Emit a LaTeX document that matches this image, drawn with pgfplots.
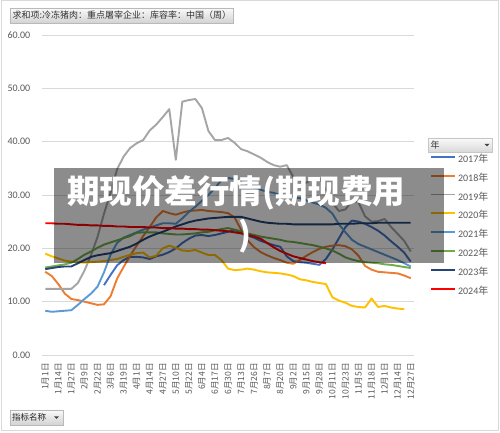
\documentclass[border=0pt]{standalone}
\usepackage{pgfplots}
\pgfplotsset{compat=1.18}
\usepackage{pgfplotstable}
\usepackage{fontspec}
\setmainfont{Carlito}
\newfontfamily\cjk{Noto Sans CJK SC}
\definecolor{s17}{HTML}{4472C4}
\definecolor{s18}{HTML}{ED7D31}
\definecolor{s19}{HTML}{A5A5A5}
\definecolor{s20}{HTML}{FFC000}
\definecolor{s21}{HTML}{5B9BD5}
\definecolor{s22}{HTML}{70AD47}
\definecolor{s23}{HTML}{264478}
\definecolor{s24}{HTML}{FF0000}
\definecolor{txt}{HTML}{595959}
\definecolor{grd}{HTML}{D9D9D9}

\pgfplotstableread{
c  a17  a18  a19  a20  a21  a22  a23  a24
0  nan  15.6 12.4 19.0 8.3  16.4 16.1 24.7
1  nan  14.8 12.4 18.5 8.1  16.6 16.3 24.7
2  nan  13.3 12.4 18.1 8.2  16.8 16.5 24.6
3  nan  11.5 12.4 17.7 8.3  17.0 16.6 24.6
4  nan  10.5 12.4 17.5 8.4  17.3 16.6 24.5
5  nan  10.3 13.5 17.4 9.4  18.0 17.2 24.4
6  nan  10.0 15.8 17.3 10.5 18.8 17.8 24.4
7  nan  9.7  18.7 17.4 11.5 19.4 18.4 24.3
8  nan  9.4  22.1 17.5 12.8 20.1 18.7 24.3
9  13.1 9.5  26.5 17.6 15.5 20.7 18.9 24.2
10 15.0 11.0 30.4 17.8 18.8 21.1 19.1 24.2
11 16.8 14.3 34.8 18.0 21.0 21.5 19.5 24.1
12 17.8 16.5 37.2 18.4 22.0 21.9 19.9 24.1
13 18.4 18.6 38.8 18.8 22.5 22.3 20.3 24.0
14 18.4 20.5 39.7 19.1 23.0 22.9 20.9 24.0
15 18.3 22.3 40.3 19.2 23.5 23.0 21.6 24.0
16 18.0 24.0 42.1 18.3 23.9 23.0 22.2 23.9
17 18.5 25.8 43.2 18.6 24.3 23.0 22.7 23.9
18 18.8 27.0 44.6 20.0 24.7 22.8 23.1 23.8
19 19.3 26.6 46.1 20.5 24.7 22.7 23.6 23.8
20 20.0 26.3 36.6 20.1 24.6 22.6 24.1 23.7
21 21.0 26.7 47.5 19.6 25.6 22.6 24.5 23.7
22 21.8 27.0 47.8 19.5 26.8 22.7 24.9 23.6
23 22.4 27.1 48.0 19.7 27.8 22.8 25.2 23.6
24 22.5 27.2 46.3 19.2 28.9 23.0 25.4 23.5
25 22.3 27.0 42.0 18.75 30.0 23.1 25.6 23.5
26 22.5 26.9 40.3 18.75 31.3 23.4 25.7 23.4
27 22.8 26.8 40.3 17.8 32.8 23.6 25.8 23.3
28 23.1 26.6 40.7 16.2 33.2 23.8 25.9 23.2
29 23.4 25.8 39.8 15.9 33.0 23.5 25.9 23.0
30 23.0 23.5 38.6 16.0 32.5 23.2 25.9 22.8
31 22.4 21.5 38.2 16.2 32.0 22.8 25.6 22.5
32 22.0 20.2 37.6 16.0 31.4 22.5 25.3 22.2
33 21.4 19.3 37.0 15.7 31.0 22.2 25.0 21.8
34 21.0 18.7 36.2 15.5 30.6 22.0 24.8 21.0
35 20.6 18.2 35.6 15.4 30.4 21.8 24.7 20.2
36 20.3 17.8 35.3 15.3 30.0 21.6 24.6 19.5
37 18.5 17.3 35.6 15.1 29.8 21.3 24.6 19.0
38 17.6 17.1 33.4 14.8 29.6 21.2 24.5 18.5
39 17.4 17.8 32.8 14.2 29.4 21.0 24.5 18.2
40 17.3 18.6 32.3 14.0 29.0 20.8 24.5 17.9
41 17.1 19.3 33.0 13.7 28.6 20.6 24.5 17.6
42 16.9 19.9 33.2 13.5 28.2 20.3 24.5 17.4
43 18.0 20.3 31.0 13.3 27.6 20.0 24.5 17.2
44 19.8 20.5 28.5 10.8 26.5 19.6 24.5 nan
45 21.9 20.6 27.0 10.2 24.5 19.0 24.6 nan
46 24.0 20.4 27.3 9.8  23.0 18.3 24.6 nan
47 25.2 19.8 29.0 9.2  21.6 17.9 24.6 nan
48 25.0 18.6 28.6 9.0  20.8 17.6 24.7 nan
49 24.6 16.7 26.0 8.9  20.3 17.4 24.7 nan
50 24.0 16.0 25.0 10.6 19.8 17.3 24.7 nan
51 23.3 15.6 25.1 9.0  19.3 17.2 24.8 nan
52 22.4 15.5 25.5 9.2  18.8 17.0 24.8 nan
53 21.3 15.4 24.0 8.9  18.3 16.9 24.8 nan
54 20.3 15.3 22.7 8.7  17.8 16.7 24.8 nan
55 19.2 14.9 21.4 8.6  17.2 16.5 24.8 nan
56 17.5 14.4 19.4 nan  16.6 16.3 24.8 nan
}\data

\begin{document}
\begin{tikzpicture}[x=1pt,y=1pt]
\useasboundingbox (0,0) rectangle (500,433);
\fill[white] (0,0) rectangle (500,433);
\draw[grd, line width=0.8pt] (1.5,2.5) rectangle (498.5,432.5);
% top field button
\shade[top color=gray!4, bottom color=gray!35, draw=gray!55] (10,410) rectangle (233,425);
\node[anchor=west, inner sep=0pt, text=black!80, font=\cjk\fontsize{9}{10}\selectfont] at (12.5,417.5) {求和项:冷冻猪肉：重点屠宰企业：库容率：中国（周）};

\begin{axis}[
  at={(42pt,78pt)}, anchor=south west, scale only axis,
  width=372pt, height=320pt,
  xmin=-0.5, xmax=56.5, ymin=0, ymax=60,
  ytick={0,10,...,60},
  xtick={0,2,...,56},
  xticklabels={1月1日,1月14日,1月27日,2月9日,2月22日,3月6日,3月19日,4月1日,4月14日,4月27日,5月10日,5月22日,6月4日,6月17日,6月30日,7月13日,7月26日,8月7日,8月20日,9月2日,9月15日,9月28日,10月11日,10月23日,11月5日,11月18日,12月1日,12月14日,12月27日},
  xticklabel style={font=\cjk\fontsize{8.6}{10}\selectfont, yshift=-8pt, rotate=90, anchor=east, inner sep=0pt, text=txt},
  yticklabel style={font=\fontsize{10}{12}\selectfont, anchor=east, inner sep=0pt, xshift=-11.5pt, text=txt, /pgf/number format/.cd, fixed, fixed zerofill, precision=2, assume math mode=true},
  axis line style={draw=none},
  major tick length=0pt,
  ymajorgrids, grid style={grd, line width=0.9pt},
  clip=false,
  legend style={at={(1.043,0.625)}, anchor=north west, draw=none, fill=none, inner sep=0pt,
    font=\fontsize{10}{12}\selectfont, text=txt,
    nodes={inner sep=0pt, text height=7pt, text depth=2pt}, row sep=9.9pt, column sep=2pt},
  legend cell align=left,
  legend image code/.code={\draw[#1, line width=1.9pt] (0pt,3pt) -- (24pt,3pt);},
  every axis plot/.append style={line width=1.9pt, line join=round, no marks},
]
\addplot[s17] table[x=c, y=a17] {\data};
\addlegendentry{2017{\cjk 年}}
\addplot[s18] table[x=c, y=a18] {\data};
\addlegendentry{2018{\cjk 年}}
\addplot[s19] table[x=c, y=a19] {\data};
\addlegendentry{2019{\cjk 年}}
\addplot[s20] table[x=c, y=a20] {\data};
\addlegendentry{2020{\cjk 年}}
\addplot[s21] table[x=c, y=a21] {\data};
\addlegendentry{2021{\cjk 年}}
\addplot[s22] table[x=c, y=a22] {\data};
\addlegendentry{2022{\cjk 年}}
\addplot[s23] table[x=c, y=a23] {\data};
\addlegendentry{2023{\cjk 年}}
\addplot[s24] table[x=c, y=a24] {\data};
\addlegendentry{2024{\cjk 年}}
\end{axis}

% legend header
\shade[top color=gray!4, bottom color=gray!30, draw=gray!45] (428,281) rectangle (492,295);
\node[anchor=west, inner sep=0pt, text=black!80, font=\cjk\fontsize{9}{10}\selectfont] at (430.5,288) {年};
\fill[black!75] (484.5,289.2) -- (489.5,289.2) -- (487,286.5) -- cycle;

% bottom field button
\shade[top color=gray!4, bottom color=gray!35, draw=gray!55] (10,8) rectangle (63,23);
\node[anchor=west, inner sep=0pt, text=black!85, font=\cjk\fontsize{8.5}{10}\selectfont] at (12,15.5) {指标名称};
\fill[black!75] (54,16.7) -- (59,16.7) -- (56.5,14) -- cycle;

% watermark overlay
\fill[black, fill opacity=0.45] (54,170) rectangle (444,265);
\node[anchor=west, inner sep=0pt, text=white, font=\cjk\bfseries\fontsize{32.5}{36}\selectfont] at (67,240) {期现价差行情(期现费用};
\node[inner sep=0pt, text=white, font=\cjk\bfseries\fontsize{32.5}{36}\selectfont] at (245,197) {)};
\end{tikzpicture}
\end{document}
